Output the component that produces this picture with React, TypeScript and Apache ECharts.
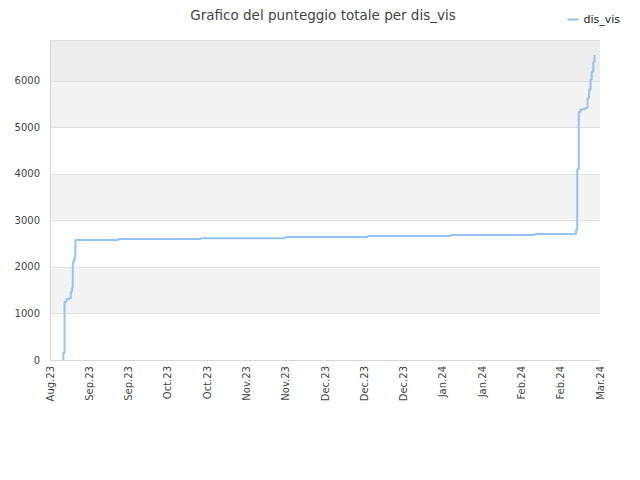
import React, { useEffect, useRef } from "react";
import * as echarts from "echarts";

// x positions are in tick units (0 = first label, 14 = last label)
const tickLabels = [
  "Aug.23", "Sep.23", "Sep.23", "Oct.23", "Oct.23", "Nov.23", "Nov.23", "Dec.23",
  "Dec.23", "Dec.23", "Jan.24", "Jan.24", "Feb.24", "Feb.24", "Mar.24",
];
const stepX = [
  0.34, 0.34, 0.37, 0.425, 0.49, 0.53, 0.56, 0.58, 0.61, 0.64, 0.65, 1.74, 3.84, 5.98,
  8.09, 10.2, 12.34, 13.39, 13.42, 13.46, 13.51, 13.62, 13.68, 13.72, 13.76, 13.79,
  13.83, 13.86,
];
const scores = [
  0, 150, 1250, 1310, 1330, 1470, 1550, 2110, 2170, 2190, 2580, 2600, 2620, 2645,
  2665, 2690, 2710, 2800, 4100, 5340, 5390, 5420, 5630, 5810, 6030, 6200, 6415, 6560,
];

const App: React.FC = () => {
  const chartRef = useRef<HTMLDivElement>(null);

  useEffect(() => {
    if (!chartRef.current) return;
    const chart = echarts.init(chartRef.current, null, { renderer: "svg" });
    const font = "DejaVu Sans";
    chart.setOption({
      animation: false,
      textStyle: { fontFamily: font },
      title: {
        text: "Grafico del punteggio totale per dis_vis",
        left: 318,
        textAlign: "center",
        top: 3,
        textStyle: { fontSize: 13.5, fontWeight: "normal", color: "#444", fontFamily: font },
      },
      legend: {
        right: 15,
        top: 9,
        icon: "rect",
        itemWidth: 11,
        itemHeight: 2,
        itemGap: 6,
        textStyle: { fontSize: 11, color: "#222", fontFamily: font },
        data: ["dis_vis"],
      },
      grid: { left: 50, right: 40, top: 40, bottom: 120 },
      xAxis: {
        type: "value",
        min: 0,
        max: tickLabels.length - 1,
        interval: 1,
        axisLine: { lineStyle: { color: "#d6d6d6" } },
        axisTick: { show: false },
        splitLine: { show: false },
        axisLabel: {
          rotate: 90,
          fontSize: 10,
          color: "#444",
          fontFamily: font,
          margin: 6,
          hideOverlap: false,
          formatter: (v: number) => tickLabels[Math.round(v)] ?? "",
        },
      },
      yAxis: {
        type: "value",
        min: 0,
        max: 6880,
        interval: 1000,
        axisLine: { show: true, lineStyle: { color: "#d6d6d6" } },
        axisTick: { show: false },
        splitLine: { lineStyle: { color: "#e0e0e0" } },
        splitArea: {
          show: true,
          areaStyle: {
            color: ["#ffffff", "#f3f3f3", "#ffffff", "#f3f3f3", "#ffffff", "#f3f3f3", "#ededed"],
          },
        },
        axisLabel: {
          fontSize: 10,
          color: "#444",
          fontFamily: font,
          margin: 10,
          showMaxLabel: false,
          formatter: (v: number) => String(v),
        },
      },
      series: [
        {
          name: "dis_vis",
          type: "line",
          step: "end",
          showSymbol: false,
          color: "#92c3f5",
          lineStyle: { width: 2, color: "#92c3f5" },
          data: stepX.map((x, i) => [x, scores[i]]),
        },
      ],
    });
    return () => chart.dispose();
  }, []);

  return <div ref={chartRef} style={{ width: 640, height: 480, margin: -8 }} />;
};

export default App;
